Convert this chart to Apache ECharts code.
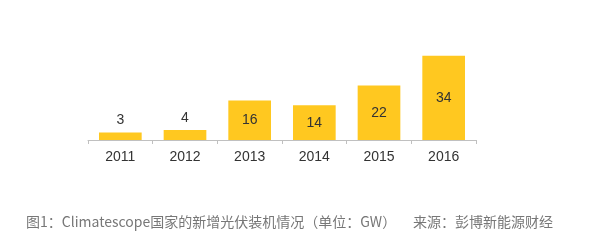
<!DOCTYPE html>
<html>
<head>
<meta charset="utf-8">
<script src="https://cdn.jsdelivr.net/npm/echarts@6/dist/echarts.min.js"></script>
<style>html,body{margin:0;padding:0;background:#fff}#c{width:600px;height:247px}</style>
</head>
<body>
<div id="c"></div>
<script>
const categories = ['2011', '2012', '2013', '2014', '2015', '2016'];
const values = [3, 4, 16, 14, 22, 34];
const insideThreshold = 10;
const captionLeft = '图1：Climatescope国家的新增光伏装机情况（单位：GW）';
const captionRight = '来源：彭博新能源财经';

const chart = echarts.init(document.getElementById('c'), null, {renderer: 'canvas'});
chart.setOption({
  animation: false,
  backgroundColor: '#fff',
  grid: {left: 88, right: 124, top: 41, bottom: 107},
  xAxis: {
    type: 'category',
    data: categories,
    axisLine: {lineStyle: {color: '#c0c0c0', width: 1}},
    axisTick: {show: true, length: 4, inside: false, lineStyle: {color: '#c0c0c0'}},
    axisLabel: {color: '#333', fontSize: 14, fontFamily: 'Liberation Sans, Arial, sans-serif', margin: 10}
  },
  yAxis: {type: 'value', min: 0, max: 40, show: false, splitLine: {show: false}},
  series: [{
    type: 'bar',
    barCategoryGap: '34%',
    data: values.map(v => ({
      value: v,
      label: {position: v < insideThreshold ? 'top' : 'inside'}
    })),
    itemStyle: {color: '#FFC820'},
    label: {show: true, color: '#333', fontSize: 14, fontFamily: 'Liberation Sans, Arial, sans-serif', distance: 5}
  }],
  graphic: [
    {type: 'text', left: 26, top: 215, style: {text: captionLeft, fill: '#777', fontSize: 14, fontFamily: 'Noto Sans CJK SC, sans-serif'}},
    {type: 'text', left: 413, top: 215, style: {text: captionRight, fill: '#777', fontSize: 14, fontFamily: 'Noto Sans CJK SC, sans-serif'}}
  ]
});
</script>
</body>
</html>
